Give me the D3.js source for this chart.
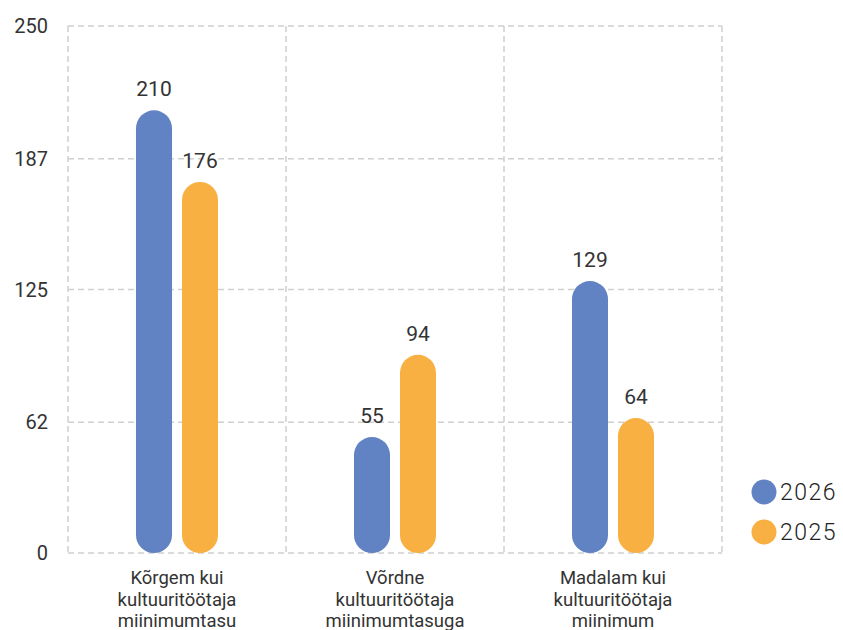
<!DOCTYPE html>
<html>
<head>
<meta charset="utf-8">
<script src="https://cdn.jsdelivr.net/npm/d3@7"></script>
<style>
  body { margin: 0; background: #fff; }
  svg { font-family: Roboto, "Noto Sans", sans-serif; }
</style>
</head>
<body>
<div id="chart"></div>
<script>
var categories = [
  ["Kõrgem kui", "kultuuritöötaja", "miinimumtasu"],
  ["Võrdne", "kultuuritöötaja", "miinimumtasuga"],
  ["Madalam kui", "kultuuritöötaja", "miinimum"]
];
var seriesNames = ["2026", "2025"];
var values2026 = [210, 55, 129];
var values2025 = [176, 94, 64];
var yTicks = [0, 62, 125, 187, 250];
var colors = ["#6283c3", "#f9b042"];

var w = 843, h = 630;
var padLeft = 68, padRight = 722, padTop = 26, padBottom = 553;

var svg = d3.select("#chart").append("svg")
  .attr("width", w).attr("height", h);

var yScale = d3.scaleLinear().domain([0, 250]).range([padBottom, padTop]);
var xScale = d3.scaleBand().domain(d3.range(categories.length)).range([padLeft, padRight]);
var xInner = d3.scaleBand().domain(seriesNames).range([0, xScale.bandwidth()])
  .paddingInner(0.217).paddingOuter(1.478);

// grid
var grid = svg.append("g").attr("stroke", "#d0d0d0").attr("stroke-width", 1.5).attr("stroke-dasharray", "6,4");
grid.selectAll("line.h").data(yTicks).enter().append("line")
  .attr("x1", padLeft).attr("x2", padRight)
  .attr("y1", function(d) { return yScale(d); }).attr("y2", function(d) { return yScale(d); });
var vx = d3.range(categories.length + 1).map(function(i) { return padLeft + i * xScale.bandwidth(); });
grid.selectAll("line.v").data(vx).enter().append("line")
  .attr("x1", function(d) { return d; }).attr("x2", function(d) { return d; })
  .attr("y1", padTop).attr("y2", padBottom);

// y axis labels
svg.append("g").selectAll("text").data(yTicks).enter().append("text")
  .attr("x", 48).attr("y", function(d) { return yScale(d) + 7; })
  .attr("text-anchor", "end").attr("font-size", 20).attr("fill", "#333")
  .text(function(d) { return d; });

// bars
var data = [];
categories.forEach(function(c, i) {
  data.push({ cat: i, s: "2026", v: values2026[i], color: colors[0] });
  data.push({ cat: i, s: "2025", v: values2025[i], color: colors[1] });
});
var bw = xInner.bandwidth();
svg.append("g").selectAll("rect").data(data).enter().append("rect")
  .attr("x", function(d) { return xScale(d.cat) + xInner(d.s); })
  .attr("y", function(d) { return yScale(d.v); })
  .attr("width", bw)
  .attr("height", function(d) { return padBottom - yScale(d.v); })
  .attr("rx", bw / 2).attr("ry", bw / 2)
  .attr("fill", function(d) { return d.color; });

// value labels
svg.append("g").selectAll("text").data(data).enter().append("text")
  .attr("x", function(d) { return xScale(d.cat) + xInner(d.s) + bw / 2; })
  .attr("y", function(d) { return yScale(d.v) - 14; })
  .attr("text-anchor", "middle").attr("font-size", 21).attr("fill", "#333")
  .text(function(d) { return d.v; });

// category labels
var cl = svg.append("g").selectAll("text").data(categories).enter().append("text")
  .attr("text-anchor", "middle").attr("font-size", 18.5).attr("fill", "#333");
cl.selectAll("tspan").data(function(d, i) { return d.map(function(t) { return { t: t, i: i }; }); })
  .enter().append("tspan")
  .attr("x", function(d) { return xScale(d.i) + xScale.bandwidth() / 2; })
  .attr("y", function(d, j) { return 584 + j * 21.5; })
  .text(function(d) { return d.t; });

// legend
var lg = svg.append("g").selectAll("g").data(seriesNames).enter().append("g")
  .attr("transform", function(d, i) { return "translate(764," + (492 + i * 40) + ")"; });
lg.append("circle").attr("r", 12.5).attr("fill", function(d, i) { return colors[i]; });
lg.append("text").attr("x", 16).attr("y", 8).attr("font-size", 23).attr("font-weight", 300)
  .attr("letter-spacing", 1.5).attr("fill", "#222")
  .text(function(d) { return d; });
</script>
</body>
</html>
